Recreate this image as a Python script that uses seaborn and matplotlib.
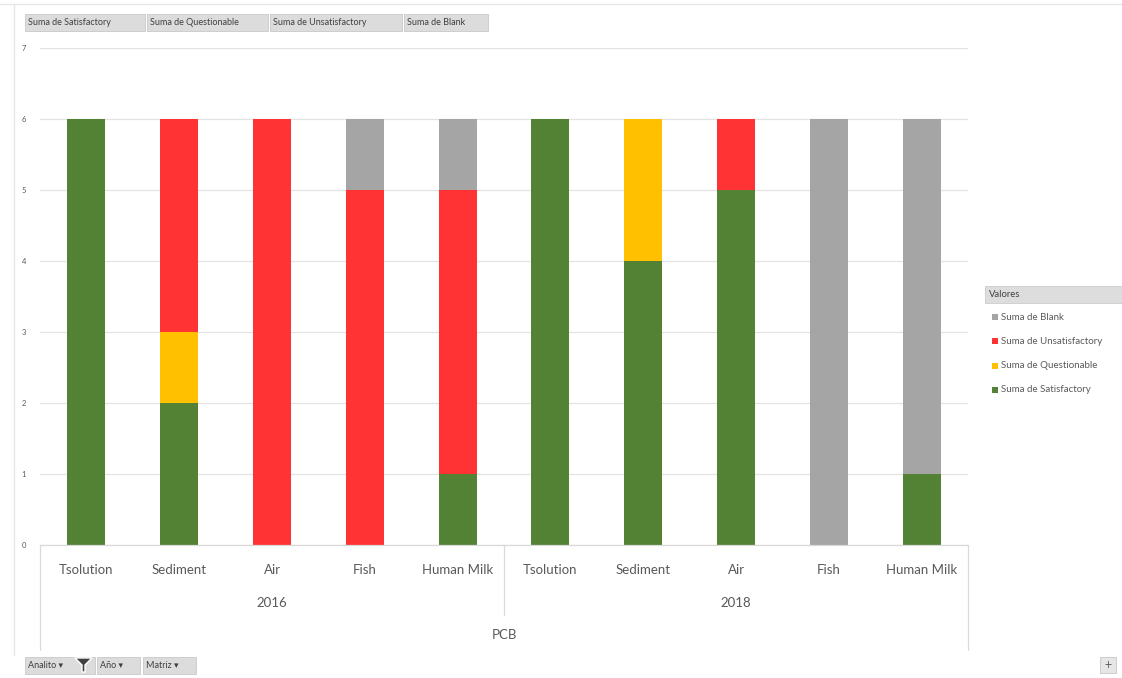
import matplotlib
matplotlib.use("Agg")
import matplotlib.pyplot as plt
import seaborn as sns
import pandas as pd
import numpy as np
from matplotlib.patches import Rectangle
from matplotlib.lines import Line2D
import matplotlib.transforms as mtransforms

# ---- data ----
years = ["2016"] * 5 + ["2018"] * 5
matrices = ["Tsolution", "Sediment", "Air", "Fish", "Human Milk"] * 2
satisfactory = [6, 2, 0, 0, 1, 6, 4, 5, 0, 1]
questionable = [0, 1, 0, 0, 0, 0, 2, 0, 0, 0]
unsatisfactory = [0, 3, 6, 5, 4, 0, 0, 1, 0, 0]
blank = [0, 0, 0, 1, 1, 0, 0, 0, 6, 5]
series_names = ["Suma de Satisfactory", "Suma de Questionable",
                "Suma de Unsatisfactory", "Suma de Blank"]
colors = ["#548235", "#FFC000", "#FF3333", "#A5A5A5"]
group_label = "PCB"

sns.set_theme(style="white")
plt.rcParams["font.family"] = ["Lato", "DejaVu Sans"]
txt = "#595959"

W, H = 1122, 678
fig = plt.figure(figsize=(W / 100, H / 100), dpi=100)
fig.patch.set_facecolor("white")

def fx(px):
    return px / W

def fy(py):
    return 1 - py / H

ax = fig.add_axes([fx(40), fy(545), fx(968) - fx(40), fy(48) - fy(545)])

keys = [f"{y}|{m}" for y, m in zip(years, matrices)]
cum = np.cumsum(np.array([satisfactory, questionable, unsatisfactory, blank]), axis=0)

# draw from top-most cumulative down so lower segments overlay
for i in range(3, -1, -1):
    d = pd.DataFrame({"key": keys, "val": cum[i]})
    sns.barplot(data=d, x="key", y="val", color=colors[i], saturation=1,
                width=0.41, ax=ax, order=keys, edgecolor="none", linewidth=0)

ax.set_xlim(-0.5, 9.5)
ax.set_ylim(0, 7)
ax.set_yticks(range(0, 8))
ax.set_yticklabels([str(v) for v in range(0, 8)], fontsize=5.5, color=txt)
ax.tick_params(axis="y", length=0, pad=10)
ax.yaxis.grid(True, color="#E3E3E3", linewidth=0.9)
ax.set_axisbelow(True)
for s in ax.spines.values():
    s.set_visible(False)
ax.set_xlabel("")
ax.set_ylabel("")
ax.set_xticks(range(10))
ax.set_xticklabels(matrices, fontsize=9.5, color=txt)
ax.tick_params(axis="x", length=0, pad=14)

# box lines under the axis
trans = mtransforms.blended_transform_factory(ax.transData, ax.transAxes)
def ay(py):
    return -(py - 545) / (545 - 48)
line_kw = dict(color="#D9D9D9", linewidth=0.9, clip_on=False, transform=trans)
ax.plot([-0.5, 9.5], [0, 0], **line_kw)
ax.plot([-0.5, -0.5], [0, ay(650)], **line_kw)
ax.plot([9.5, 9.5], [0, ay(650)], **line_kw)
ax.plot([4.5, 4.5], [0, ay(615)], **line_kw)

for gi, yr in enumerate(["2016", "2018"]):
    ax.text(2 + 5 * gi, ay(603), yr, transform=trans, ha="center", va="center",
            fontsize=9.5, color=txt)
ax.text(4.5, ay(635), group_label, transform=trans, ha="center", va="center",
        fontsize=9.5, color=txt)

# border lines
fig.add_artist(Line2D([0, 1], [fy(4), fy(4)], color="#E6E6E6", linewidth=1,
                      transform=fig.transFigure))
fig.add_artist(Line2D([fx(14), fx(14)], [fy(4), fy(655)], color="#E6E6E6",
                      linewidth=1, transform=fig.transFigure))

# field buttons
def button(x0, x1, y0, y1, label):
    fig.add_artist(Rectangle((fx(x0), fy(y1)), fx(x1) - fx(x0), fy(y0) - fy(y1),
                             transform=fig.transFigure, facecolor="#DCDCDC",
                             edgecolor="#C8C8C8", linewidth=0.6))
    fig.text(fx(x0 + 3), fy((y0 + y1) / 2), label, fontsize=6.5, color="#404040",
             ha="left", va="center")

top_btns = [(25, 145), (147, 268), (270, 402), (404, 488)]
for (x0, x1), name in zip(top_btns, series_names):
    button(x0, x1, 14, 31, name)

bottom = [(25, 95, "Analito \u25be"), (97, 140, "A\u00f1o \u25be"), (143, 196, "Matriz \u25be")]
for x0, x1, lab in bottom:
    button(x0, x1, 657, 674, lab)
fig.add_artist(plt.Polygon([[fx(75), fy(658)], [fx(92), fy(658)], [fx(85), fy(665)],
                            [fx(85), fy(672)], [fx(82), fy(672)], [fx(82), fy(665)]],
                           closed=True, transform=fig.transFigure, facecolor="#404040"))
fig.add_artist(Rectangle((fx(1100), fy(673)), fx(16), fy(657) - fy(673),
                         transform=fig.transFigure, facecolor="#E6E6E6",
                         edgecolor="#C8C8C8", linewidth=0.6))
fig.text(fx(1108), fy(665), "+", fontsize=9, color="#606060", ha="center", va="center")

# legend panel
fig.add_artist(Rectangle((fx(985), fy(303)), fx(1122) - fx(985), fy(286) - fy(303),
                         transform=fig.transFigure, facecolor="#DDDDDD",
                         edgecolor="#CCCCCC", linewidth=0.6))
fig.text(fx(989), fy(294.5), "Valores", fontsize=6.8, color="#404040",
         ha="left", va="center")
leg_y = [317, 341, 366, 390]
for yy, i in zip(leg_y, [3, 2, 1, 0]):
    fig.add_artist(Rectangle((fx(992), fy(yy + 3)), fx(6), fy(yy - 3) - fy(yy + 3),
                             transform=fig.transFigure, facecolor=colors[i],
                             edgecolor="none"))
    fig.text(fx(1001), fy(yy), series_names[i], fontsize=7, color=txt,
             ha="left", va="center")

fig.savefig("out.png", dpi=100)
